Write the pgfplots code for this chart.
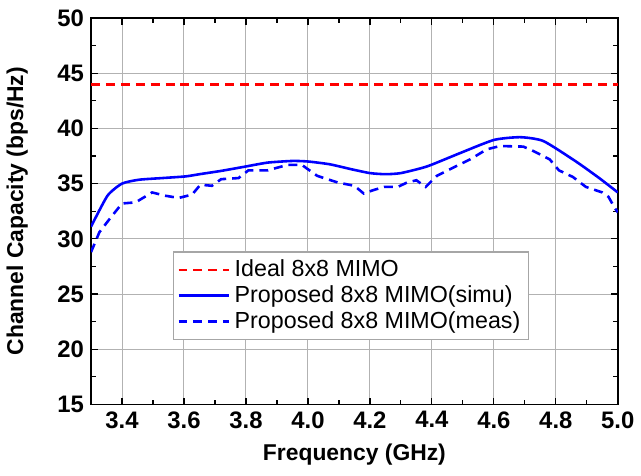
\documentclass[border=0pt]{standalone}
\usepackage{fontspec}
\setmainfont{Liberation Sans}
\usepackage{pgfplots}
\pgfplotsset{compat=1.18}
\begin{document}
\begin{tikzpicture}
\begin{axis}[
  scale only axis,
  width=265pt, height=194.5pt,
  xmin=3.3, xmax=5.0, ymin=15, ymax=50,
  xtick={3.4,3.6,...,5.0},
  ytick={15,20,...,50},
  minor x tick num=1,
  minor y tick num=1,
  tick align=inside,
  major tick length=3.5pt, minor tick length=2.5pt,
  grid=major,
  major grid style={gray!60, line width=0.5pt},
  axis line style={line width=0.9pt},
  every tick/.style={black, line width=0.6pt},
  /pgf/number format/assume math mode=true,
  xticklabel style={/pgf/number format/.cd, fixed, fixed zerofill, precision=1},
  ticklabel style={font=\bfseries\fontsize{12}{14}\selectfont},
  xlabel={\bfseries Frequency (GHz)},
  ylabel={\bfseries Channel Capacity (bps/Hz)},
  label style={font=\bfseries\fontsize{11.5}{13}\selectfont},
  xlabel style={yshift=-1pt},
  ylabel style={yshift=8pt},
  legend style={at={(0.155,0.396)}, anchor=north west, font=\fontsize{11.7}{14}\selectfont,
    draw=gray!70, line width=0.6pt, inner sep=2pt, row sep=-1pt,
    legend cell align=left},
  legend image code/.code={\draw[#1] (0cm,0cm) -- (0.9cm,0cm);},
]
\addplot[red, line width=1.3pt, dash pattern=on 4.5pt off 3pt] coordinates {(3.3,43.95) (5.0,43.95)};
\addlegendentry{Ideal 8x8 MIMO}
\addplot[blue, line width=1.3pt, smooth, tension=0.35] coordinates {
(3.3,31.1) (3.353,33.9) (3.4,35.0) (3.455,35.35) (3.53,35.5) (3.605,35.65) (3.65,35.85)
(3.72,36.15) (3.8,36.55) (3.87,36.9) (3.95,37.05) (4.0,37.0) (4.07,36.75) (4.14,36.3)
(4.2,35.95) (4.25,35.85) (4.3,35.95) (4.384,36.55) (4.49,37.75) (4.6,38.95) (4.685,39.2)
(4.76,38.85) (4.865,37.0) (4.94,35.5) (5.0,34.2)};
\addlegendentry{Proposed 8x8 MIMO(simu)}
\addplot[blue, line width=1.3pt, dash pattern=on 4.5pt off 3pt] coordinates {
(3.3,28.8) (3.327,30.6) (3.36,31.8) (3.40,33.2) (3.444,33.3) (3.497,34.2) (3.54,33.9)
(3.583,33.7) (3.626,34.0) (3.653,34.9) (3.69,34.8) (3.72,35.4) (3.776,35.5) (3.808,36.2)
(3.87,36.2) (3.935,36.7) (3.98,36.7) (4.03,35.7) (4.096,35.1) (4.15,34.8) (4.18,34.1)
(4.21,34.4) (4.246,34.7) (4.29,34.7) (4.32,35.1) (4.35,35.3) (4.38,34.7) (4.416,35.7)
(4.48,36.6) (4.524,37.2) (4.577,38.1) (4.62,38.4) (4.695,38.35) (4.727,37.95) (4.78,37.2)
(4.81,36.2) (4.855,35.6) (4.897,34.7) (4.95,34.2) (4.97,33.8) (4.99,32.8) (5.0,32.4)};
\addlegendentry{Proposed 8x8 MIMO(meas)}
\end{axis}
\path ([yshift=9pt]current axis.north) ([yshift=-35.5pt]current axis.south);
\end{tikzpicture}
\end{document}
